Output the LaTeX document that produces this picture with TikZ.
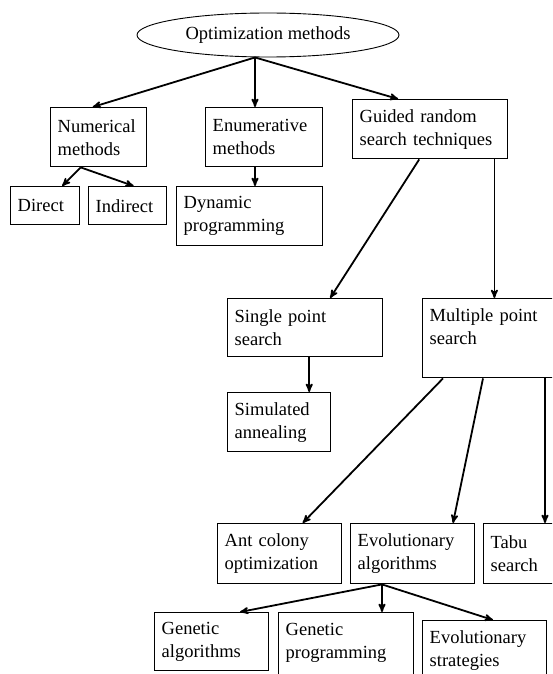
\documentclass[tikz,border=0pt]{standalone}
\usepackage{fontspec}
\setmainfont{Liberation Serif}
\usetikzlibrary{arrows,positioning,shapes}

\begin{document}
\begin{tikzpicture}
	[ x=1pt, y=-1pt,
		font=\fontsize{18.5}{23}\selectfont,
		concept/.style={rectangle,draw,line width=1.4pt,anchor=north west,align=left,inner xsep=7pt,inner ysep=0pt},
		root/.style={ellipse,draw,line width=0.9pt,minimum width=262pt,minimum height=44pt,inner sep=0pt},
		arrowOut/.style={->,>=stealth',line width=1.8pt}]

	\useasboundingbox (0,0) rectangle (552,674);
	\clip (0,0) rectangle (552,674);

	\node[root] (optimization) at (268,35) {Optimization methods};
	\coordinate (hub) at ([xshift=-13pt]optimization.south);

	% first level
	\node[concept,text width=82pt,minimum height=59pt] (numerical) at (50,107) {Numerical\\methods};
	\node[concept,text width=103pt,minimum height=59pt] (enumerative) at (205,107) {Enumerative\\methods};
	\node[concept,text width=141pt,minimum height=59pt] (guided) at (352,99) {Guided random\\search techniques};

	% second level
	\node[concept,text width=55pt,minimum height=38pt] (direct) at (10,186) {Direct};
	\node[concept,text width=64pt,minimum height=38pt] (indirect) at (88,186) {Indirect};
	\node[concept,text width=132pt,minimum height=59pt] (dynamic) at (176,186) {Dynamic\\programming};
	\node[concept,text width=141pt,minimum height=58pt] (single) at (227,298) {Single point\\search};
	\node[concept,text width=126pt,minimum height=79pt] (multiple) at (422,298) {Multiple point\\search\\ \mbox{}};
	\node[concept,text width=89pt,minimum height=59pt] (simulated) at (227,392) {Simulated\\annealing};

	% population based
	\node[concept,text width=110pt,minimum height=60pt] (ant) at (217,523) {Ant colony\\optimization};
	\node[concept,text width=110pt,minimum height=60pt] (evolutionary) at (350,523) {Evolutionary\\algorithms};
	\node[concept,text width=66pt,minimum height=60pt] (tabu) at (483,523) {Tabu\\search};
	\node[concept,text width=100pt,minimum height=58pt] (genetic) at (154,612) {Genetic\\algorithms};
	\node[concept,text width=121pt,minimum height=79pt] (programming) at (278,612) {Genetic\\programming\\ \mbox{}};
	\node[concept,text width=110pt,minimum height=79pt] (strategies) at (422,620) {Evolutionary\\strategies\\ \mbox{}};

	\draw[arrowOut] (hub) -- ([xshift=-6pt]numerical.north);
	\draw[arrowOut] (hub) -- (hub |- enumerative.north);
	\draw[arrowOut] (hub) -- ([xshift=-32pt]guided.north);
	\draw[arrowOut] ([xshift=-18pt]numerical.south) -- ([xshift=17pt]direct.north);
	\draw[arrowOut] ([xshift=-18pt]numerical.south) -- ([xshift=6pt]indirect.north);
	\draw[arrowOut] (hub |- enumerative.south) -- (hub |- dynamic.north);
	\draw[arrowOut] ([xshift=-11pt]guided.south) -- ([xshift=25pt]single.north);
	\coordinate (gr) at ([xshift=-14pt]guided.south east);
	\draw[arrowOut] (gr) -- (gr |- multiple.north);
	\coordinate (ss) at ([xshift=4pt]single.south);
	\draw[arrowOut] (ss) -- (ss |- simulated.north);
	\draw[arrowOut] ([xshift=21pt]multiple.south west) -- ([xshift=23pt]ant.north);
	\draw[arrowOut] ([xshift=61pt]multiple.south west) -- ([xshift=103pt]evolutionary.north west);
	\coordinate (mr) at ([xshift=123pt]multiple.south west);
	\draw[arrowOut] (mr) -- (mr |- tabu.north);
	\coordinate (eh) at ([xshift=32pt]evolutionary.south west);
	\draw[arrowOut] (eh) -- ([xshift=86pt]genetic.north west);
	\draw[arrowOut] (eh) -- (eh |- programming.north);
	\draw[arrowOut] (eh) -- ([xshift=71pt]strategies.north west);
\end{tikzpicture}
\end{document}
